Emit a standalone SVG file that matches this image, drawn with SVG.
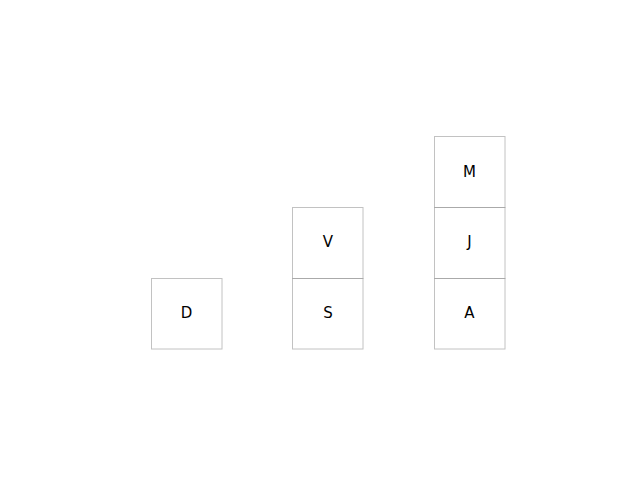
<svg xmlns="http://www.w3.org/2000/svg" width="640" height="480" viewBox="0 0 640 480">
<style>
.box{fill:none;stroke:#999;stroke-opacity:0.6;stroke-width:1}
.lbl{font-family:"DejaVu Sans",sans-serif;font-size:15px;fill:#000;text-anchor:middle}
</style>
<rect width="640" height="480" fill="#fff"/>
<g id="connectors"/>
<g id="D"><rect class="box" x="151.5" y="278.5" width="70.5" height="70.5"/><text class="lbl" x="186.5" y="317.5">D</text></g>
<g id="S"><rect class="box" x="292.5" y="278.5" width="70.5" height="70.5"/><text class="lbl" x="328" y="317.5">S</text></g>
<g id="V"><rect class="box" x="292.5" y="207.5" width="70.5" height="71"/><text class="lbl" x="328" y="246.5">V</text></g>
<g id="A"><rect class="box" x="434.5" y="278.5" width="70.5" height="70.5"/><text class="lbl" x="469.5" y="317.5">A</text></g>
<g id="J"><rect class="box" x="434.5" y="207.5" width="70.5" height="71"/><text class="lbl" x="469.5" y="246.5">J</text></g>
<g id="M"><rect class="box" x="434.5" y="136.5" width="70.5" height="71"/><text class="lbl" x="469.5" y="176.5">M</text></g>
</svg>
